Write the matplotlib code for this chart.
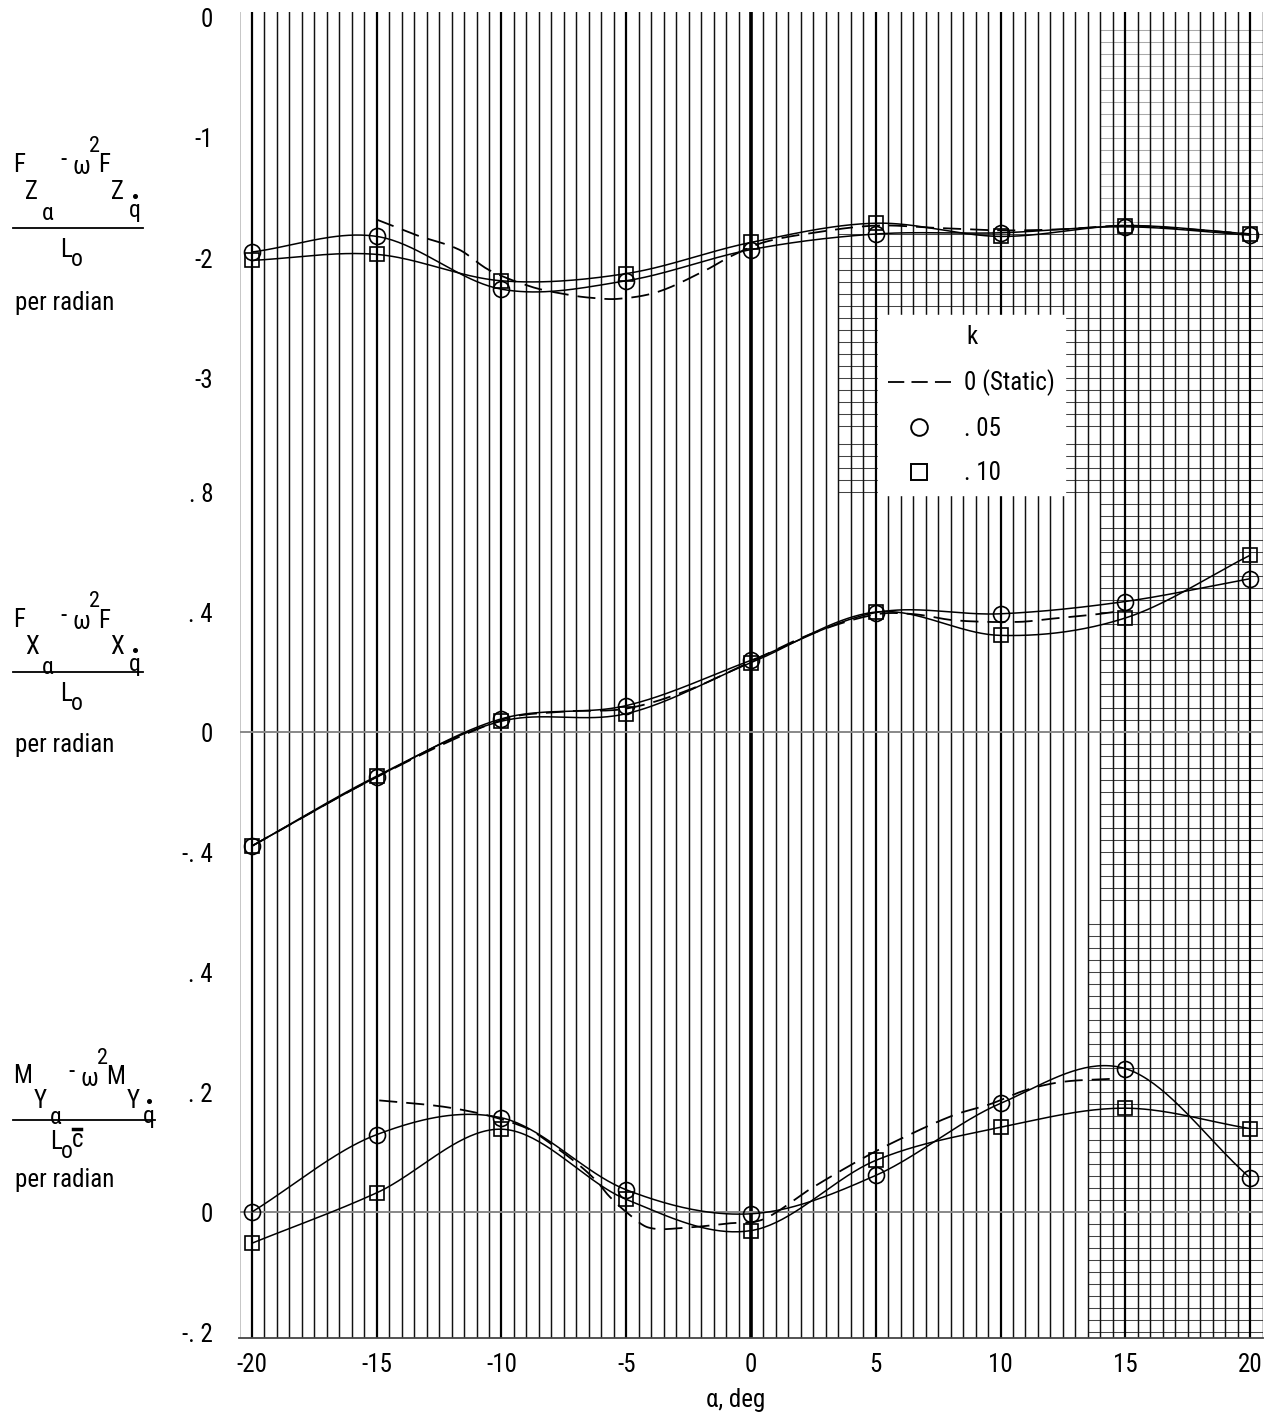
import numpy as np
import matplotlib
matplotlib.use("Agg")
import matplotlib.pyplot as plt
from matplotlib.ticker import MultipleLocator, FixedLocator, FixedFormatter
from matplotlib.lines import Line2D
from matplotlib import font_manager

# ---------------- data ----------------
alpha = [-20, -15, -10, -5, 0, 5, 10, 15, 20]

# Top panel: (F_Z_alpha - w^2 F_Z_qdot) / L_o
fz_k05 = [-1.95, -1.82, -2.26, -2.19, -1.93, -1.80, -1.79, -1.74, -1.81]
fz_k10 = [-2.02, -1.97, -2.19, -2.13, -1.87, -1.71, -1.82, -1.73, -1.80]
fz_static_alpha = [-15, -13.4, -11.7, -10.5, -8.8, -7.5, -6.5, -5.3, -3.7, -1.8,
                   -0.85, 0.5, 2.5, 5, 7.5, 10, 12.5, 15, 17.5, 20]
fz_static = [-1.68, -1.81, -1.93, -2.10, -2.24, -2.30, -2.33, -2.34, -2.28, -2.10,
             -1.99, -1.87, -1.79, -1.73, -1.75, -1.77, -1.76, -1.73, -1.76, -1.80]

# Middle panel: (F_X_alpha - w^2 F_X_qdot) / L_o
fx_k05 = [-0.38, -0.15, 0.044, 0.088, 0.239, 0.398, 0.394, 0.435, 0.511]
fx_k10 = [-0.38, -0.147, 0.036, 0.061, 0.231, 0.400, 0.322, 0.380, 0.589]
fx_static_alpha = [-20, -15, -10, -7.5, -5, -2.5, 0, 2.5, 5, 6.5, 8.2, 10.7, 12.1, 13.7, 15]
fx_static = [-0.38, -0.15, 0.04, 0.068, 0.078, 0.14, 0.235, 0.33, 0.392, 0.393,
             0.372, 0.367, 0.378, 0.391, 0.405]

# Bottom panel: (M_Y_alpha - w^2 M_Y_qdot) / (L_o c)
my_k05 = [0.0, 0.129, 0.157, 0.037, -0.003, 0.061, 0.181, 0.239, 0.057]
my_k10 = [-0.052, 0.032, 0.138, 0.021, -0.031, 0.086, 0.141, 0.173, 0.139]
my_static_alpha = [-14.9, -12.6, -11.3, -10.2, -8.9, -8.1, -7.0, -6.2, -5.7, -5.0, -4.1,
                   -2.6, -0.9, 0.5, 2.4, 4.5, 6.0, 8.1, 9.6, 11.0, 12.5, 14.5]
my_static = [0.186, 0.177, 0.168, 0.157, 0.138, 0.116, 0.082, 0.052, 0.027, 0.0, -0.026,
             -0.026, -0.019, -0.012, 0.039, 0.09, 0.122, 0.161, 0.18, 0.203, 0.217, 0.222]

x_ticks = [-20, -15, -10, -5, 0, 5, 10, 15, 20]
x_ticklabels = ["-20", "-15", "-10", "-5", "0", "5", "10", "15", "20"]
top_ticks = [0, -1, -2, -3]
top_ticklabels = ["0", "-1", "-2", "-3"]
mid_ticks = [0.8, 0.4, 0, -0.4]
mid_ticklabels = [". 8", ". 4", "0", "-. 4"]
bot_ticks = [0.4, 0.2, 0, -0.2]
bot_ticklabels = [". 4", ". 2", "0", "-. 2"]
legend_title = "k"
legend_labels = ["0 (Static)", ". 05", ". 10"]

# ---------------- fonts ----------------
avail = {f.name for f in font_manager.fontManager.ttflist}
FONT = "DejaVu Sans"
for cand in ["Liberation Sans Narrow", "Roboto Condensed", "Open Sans Condensed", "Liberation Sans"]:
    if cand in avail:
        FONT = cand
        break
plt.rcParams["font.family"] = [FONT, "DejaVu Sans"]

FS = 18


def smooth(xs, ys, n=40):
    """Cubic Hermite (Catmull-Rom style) curve through the given points for drawing."""
    x = np.asarray(xs, float)
    y = np.asarray(ys, float)
    m = np.empty_like(y)
    m[1:-1] = (y[2:] - y[:-2]) / (x[2:] - x[:-2])
    m[0] = (y[1] - y[0]) / (x[1] - x[0])
    m[-1] = (y[-1] - y[-2]) / (x[-1] - x[-2])
    ox, oy = [], []
    for i in range(len(x) - 1):
        h = x[i + 1] - x[i]
        t = np.linspace(0, 1, n, endpoint=(i == len(x) - 2))
        h00 = 2 * t**3 - 3 * t**2 + 1
        h10 = t**3 - 2 * t**2 + t
        h01 = -2 * t**3 + 3 * t**2
        h11 = t**3 - t**2
        ox.append(x[i] + t * h)
        oy.append(h00 * y[i] + h10 * h * m[i] + h01 * y[i + 1] + h11 * h * m[i + 1])
    return np.concatenate(ox), np.concatenate(oy)


W, H = 1280, 1421
fig = plt.figure(figsize=(W / 100, H / 100), dpi=100)


def fx(px):
    return px / W


def fy(py):
    return 1 - py / H


left = fx(239.5)
width = fx(1262.5) - left
ax_top = fig.add_axes([left, fy(432), width, (432 - 12) / H])
ax_mid = fig.add_axes([left, fy(912), width, (912 - 432) / H])
ax_bot = fig.add_axes([left, fy(1338), width, (1338 - 912) / H])

panels = [
    (ax_top, (-3.45, 0.05), top_ticks, top_ticklabels, fz_k05, fz_k10, fz_static_alpha, fz_static),
    (ax_mid, (-0.6, 1.0), mid_ticks, mid_ticklabels, fx_k05, fx_k10, fx_static_alpha, fx_static),
    (ax_bot, (-0.21, 0.5), bot_ticks, bot_ticklabels, my_k05, my_k10, my_static_alpha, my_static),
]

# decorative horizontal rulings visible at the right of the scanned sheet:
# (y_from, y_to, step, x_start, colour)
dense = {
    0: [(-3.4, -1.8, 0.1, 3.5, "#444444"), (-1.7, -0.1, 0.1, 14.0, "#aaaaaa")],
    1: [(0.8, 0.96, 0.04, 3.5, "#444444"), (-0.56, 0.76, 0.04, 14.0, "#444444")],
    2: [(-0.2, 0.48, 0.02, 13.5, "#444444")],
}

for i, (ax, ylim, yt, ytl, s05, s10, sa, ss) in enumerate(panels):
    ax.set_xlim(-20.5, 20.5)
    ax.set_ylim(*ylim)
    ax.set_facecolor("white")
    ax.xaxis.set_major_locator(MultipleLocator(5))
    ax.xaxis.set_minor_locator(MultipleLocator(0.5))
    ax.grid(which="minor", axis="x", color="#111111", lw=1.05)
    ax.grid(which="major", axis="x", color="black", lw=1.6)
    ax.axvline(0, color="black", lw=2.6, zorder=0.6)
    for (y0, y1, step, xs, col) in dense[i]:
        ax.hlines(np.arange(y0, y1 + 1e-9, step), xs, 20.5, color=col, lw=0.75, zorder=0.5)
    if i > 0:
        ax.axhline(0, color="#888888", lw=1.4, zorder=0.7)
    ax.set_axisbelow(True)
    for sp in ["top", "left", "right"]:
        ax.spines[sp].set_visible(False)
    if i < 2:
        ax.spines["bottom"].set_visible(False)
        ax.tick_params(axis="x", which="both", length=0, labelbottom=False)
    else:
        ax.spines["bottom"].set_color("#444444")
        ax.spines["bottom"].set_linewidth(1.3)
        ax.xaxis.set_major_locator(FixedLocator(x_ticks))
        ax.xaxis.set_major_formatter(FixedFormatter(x_ticklabels))
        ax.tick_params(axis="x", which="both", length=0, pad=11, labelsize=FS)
        ax.grid(which="major", axis="x", color="black", lw=1.6)
    ax.yaxis.set_major_locator(FixedLocator(yt))
    ax.yaxis.set_major_formatter(FixedFormatter(ytl))
    ax.tick_params(axis="y", length=0, pad=19, labelsize=FS)

    # curves
    cx, cy = smooth(alpha, s05)
    ax.plot(cx, cy, color="black", lw=1.1, zorder=3)
    qx, qy = smooth(alpha, s10)
    ax.plot(qx, qy, color="black", lw=1.1, zorder=3)
    dx, dy = smooth(sa, ss, n=15)
    ax.plot(dx, dy, color="black", lw=1.3, ls=(0, (10, 5)), zorder=3)
    ax.plot(alpha, s05, ls="none", marker="o", ms=11.5, mfc="none", mec="black", mew=1.2, zorder=4)
    ax.plot(alpha, s10, ls="none", marker="s", ms=10.5, mfc="none", mec="black", mew=1.2, zorder=4)

ax_bot.set_xlabel("α, deg", fontsize=FS, labelpad=8)
ax_bot.xaxis.label.set_x((736 - 239.5) / 1023)


# ---------------- y-axis labels (stacked fractions) ----------------
def put(s, px, py, size=FS):
    fig.text(fx(px), fy(py), s, fontsize=size, ha="left", va="center")


def bar(x0, x1, py, lw=1.3):
    fig.add_artist(Line2D([fx(x0), fx(x1)], [fy(py), fy(py)], color="black", lw=lw))


def dot(px, py):
    fig.add_artist(Line2D([fx(px)], [fy(py)], ls="none", marker="o", ms=2.6, color="black"))


# Top label
put("F", 13, 165); put("Z", 25, 192); put("α", 42, 213, size=17)
put("-", 60, 160); put("ω", 73, 167); put("2", 89, 146, size=16)
put("F", 98, 165); put("Z", 111, 192); put("q", 129, 211, size=17)
dot(135, 196)
bar(13, 143, 228)
put("L", 60, 250); put("o", 71, 260, size=17)
put("per radian", 15, 303)

# Middle label
put("F", 13, 620); put("X", 25, 647); put("α", 42, 667, size=17)
put("-", 60, 616); put("ω", 73, 622); put("2", 89, 602, size=16)
put("F", 98, 621); put("X", 110, 647); put("q", 129, 665, size=17)
dot(135, 650)
bar(13, 143, 672)
put("L", 60, 694); put("o", 71, 704, size=17)
put("per radian", 15, 745)

# Bottom label
put("M", 13, 1076); put("Y", 34, 1101); put("α", 50, 1118, size=17)
put("-", 68, 1072); put("ω", 80, 1079); put("2", 97, 1058, size=16)
put("M", 106, 1077); put("Y", 127, 1101); put("q", 143, 1116, size=17)
dot(149, 1101)
bar(13, 155, 1120)
put("L", 50, 1142); put("o", 61, 1152, size=17); put("c", 72, 1140)
bar(73, 81, 1129, lw=2.5)
put("per radian", 15, 1180)

# ---------------- legend ----------------
handles = [
    Line2D([], [], color="black", lw=1.3, ls=(0, (9, 4))),
    Line2D([], [], ls="none", marker="o", ms=12, mfc="none", mec="black", mew=1.4),
    Line2D([], [], ls="none", marker="s", ms=11, mfc="none", mec="black", mew=1.4),
]
leg = fig.legend(handles, legend_labels, title=legend_title, loc="upper left",
                 bbox_to_anchor=(fx(878), fy(315)), fontsize=FS, title_fontsize=FS,
                 frameon=True, fancybox=False, facecolor="white", edgecolor="white",
                 framealpha=1.0, borderaxespad=0, borderpad=0.4, handlelength=2.5,
                 handletextpad=0.55, labelspacing=0.82)
leg.set_zorder(10)

fig.savefig("out.png", dpi=100)
